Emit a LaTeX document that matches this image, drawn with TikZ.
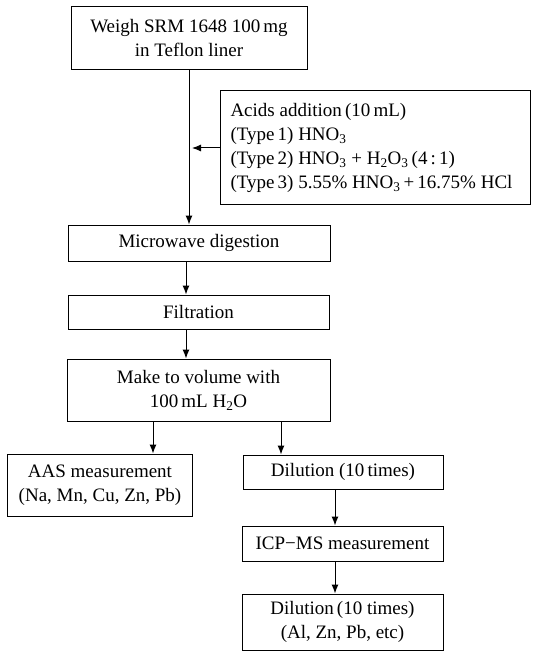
\documentclass[tikz,border=0pt]{standalone}
\usepackage{fontspec}
\setmainfont{Liberation Serif}
\usetikzlibrary{arrows.meta,calc}

\tikzset{
  stepbox/.style={draw, line width=1pt, align=center, inner sep=2pt, font=\fontsize{19}{24}\selectfont},
  flow/.style={-{Latex[length=9pt,width=7pt]}, line width=1pt}
}

\begin{document}
\begin{tikzpicture}[x=1pt,y=-1pt]
    \useasboundingbox (0,0) rectangle (532,652);
    % main column
    \node [stepbox, minimum width=236pt, minimum height=63pt] (weigh) at (189,38.5) {Weigh SRM 1648 100\,mg\\in Teflon liner};
    \node [stepbox, anchor=west, align=flush left, text width=290pt, inner xsep=10pt, minimum height=114pt] (acids) at (220,148) {Acids addition\,(10\,mL)\\(Type\,1) HNO\textsubscript{3}\\(Type\,2) HNO\textsubscript{3} + H\textsubscript{2}O\textsubscript{3}\,(4\,:\,1)\\(Type\,3) 5.55\% HNO\textsubscript{3}\,+\,16.75\% HCl};
    \node [stepbox, minimum width=262pt, minimum height=36pt] (micro) at (199,243) {Microwave digestion};
    \node [stepbox, minimum width=261pt, minimum height=34pt] (filt) at (198.5,312) {Filtration};
    \node [stepbox, minimum width=263pt, minimum height=62pt] (make) at (198.5,390) {Make to volume with\\100\,mL H\textsubscript{2}O};
    % two branches
    \node [stepbox, minimum width=185pt, minimum height=62pt] (aas) at (100,485) {AAS measurement\\(Na, Mn, Cu, Zn, Pb)};
    \node [stepbox, minimum width=200pt, minimum height=34pt] (dilA) at (343,472) {Dilution (10\,times)};
    \node [stepbox, minimum width=201pt, minimum height=35pt] (icp) at (342.5,543.5) {ICP−MS measurement};
    \node [stepbox, minimum width=201pt, minimum height=56pt] (dilB) at (342.5,622) {Dilution\,(10 times)\\(Al, Zn, Pb, etc)};

    \coordinate (spine) at (186,0);
    \coordinate (left) at (153,0);
    \coordinate (right) at (281,0);
    \coordinate (lower) at (335,0);

    \draw [flow] (weigh.south) -- (weigh.south |- micro.north);
    \draw [flow] (acids.west) -- ($(acids.west -| weigh.south)+(3,0)$);
    \draw [flow] (micro.south -| spine) -- (filt.north -| spine);
    \draw [flow] (filt.south -| spine) -- (make.north -| spine);
    \draw [flow] (make.south -| left) -- (aas.north -| left);
    \draw [flow] (make.south -| right) -- (dilA.north -| right);
    \draw [flow] (dilA.south -| lower) -- (icp.north -| lower);
    \draw [flow] (icp.south -| lower) -- (dilB.north -| lower);
\end{tikzpicture}
\end{document}
